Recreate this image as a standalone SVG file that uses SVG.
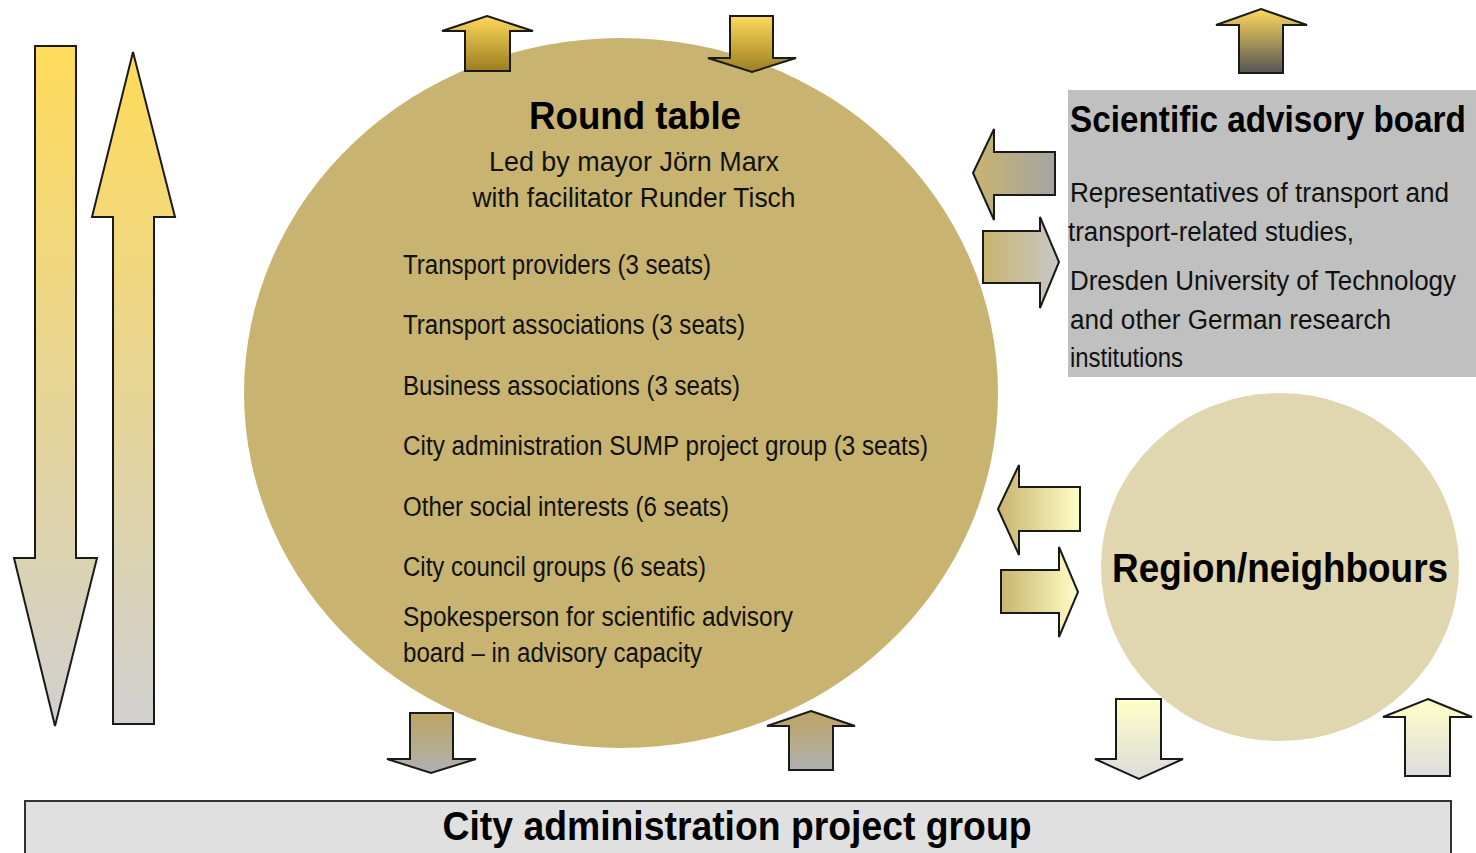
<svg xmlns="http://www.w3.org/2000/svg" width="1476" height="853" viewBox="0 0 1476 853">
  <style>
    .arrow { stroke: #1a1a1a; stroke-width: 2; stroke-linejoin: miter; }
    .title { font-family: "Liberation Sans", Arial, sans-serif; font-weight: bold; fill: #000; }
    .body { font-family: "Liberation Sans", Arial, sans-serif; fill: #111; font-size: 27px; }
  </style>
  <defs>
    <!-- vertical gradients (top to bottom) -->
    <linearGradient id="gYellowGrey" x1="0" y1="0" x2="0" y2="1">
      <stop offset="0" stop-color="#FFDB5A"/>
      <stop offset="1" stop-color="#D0D0D0"/>
    </linearGradient>
    <linearGradient id="gYellowDark" x1="0" y1="0" x2="0" y2="1">
      <stop offset="0" stop-color="#FFD85A"/>
      <stop offset="1" stop-color="#9C7E22"/>
    </linearGradient>
    <linearGradient id="gYellowSlate" x1="0" y1="0" x2="0" y2="1">
      <stop offset="0" stop-color="#FFD85A"/>
      <stop offset="1" stop-color="#555555"/>
    </linearGradient>
    <linearGradient id="gGoldGrey" x1="0" y1="0" x2="0" y2="1">
      <stop offset="0" stop-color="#BCA562"/>
      <stop offset="1" stop-color="#B0B0B0"/>
    </linearGradient>
    <linearGradient id="gPaleGrey" x1="0" y1="0" x2="0" y2="1">
      <stop offset="0" stop-color="#FFFFC8"/>
      <stop offset="1" stop-color="#DCDCDC"/>
    </linearGradient>
    <!-- horizontal gradients (left to right) -->
    <linearGradient id="hGoldGrey" x1="0" y1="0" x2="1" y2="0">
      <stop offset="0" stop-color="#C8B46E"/>
      <stop offset="1" stop-color="#A4A4A4"/>
    </linearGradient>
    <linearGradient id="hGoldLight" x1="0" y1="0" x2="1" y2="0">
      <stop offset="0" stop-color="#C8B46E"/>
      <stop offset="1" stop-color="#C8C8C8"/>
    </linearGradient>
    <linearGradient id="hGoldPale" x1="0" y1="0" x2="1" y2="0">
      <stop offset="0" stop-color="#C8B46E"/>
      <stop offset="1" stop-color="#FFFFC8"/>
    </linearGradient>
  </defs>

  <rect width="1476" height="853" fill="#FFFFFF"/>

  <!-- Round table -->
  <g id="round-table">
    <ellipse cx="621" cy="393" rx="377" ry="355" fill="#C8B470"/>
    <text class="title" x="635" y="129" font-size="39" text-anchor="middle" textLength="212" lengthAdjust="spacingAndGlyphs">Round table</text>
    <text class="body" x="634" y="171" text-anchor="middle" textLength="290" lengthAdjust="spacingAndGlyphs">Led by mayor Jörn Marx</text>
    <text class="body" x="634" y="207" text-anchor="middle" textLength="323" lengthAdjust="spacingAndGlyphs">with  facilitator  Runder  Tisch</text>
    <text class="body" x="403" y="274" textLength="308" lengthAdjust="spacingAndGlyphs">Transport providers (3 seats)</text>
    <text class="body" x="403" y="334" textLength="342" lengthAdjust="spacingAndGlyphs">Transport associations  (3 seats)</text>
    <text class="body" x="403" y="395" textLength="337" lengthAdjust="spacingAndGlyphs">Business  associations  (3 seats)</text>
    <text class="body" x="403" y="455" textLength="525" lengthAdjust="spacingAndGlyphs">City  administration  SUMP project group (3 seats)</text>
    <text class="body" x="403" y="516" textLength="326" lengthAdjust="spacingAndGlyphs">Other  social  interests  (6 seats)</text>
    <text class="body" x="403" y="576" textLength="303" lengthAdjust="spacingAndGlyphs">City  council  groups (6 seats)</text>
    <text class="body" x="403" y="626" textLength="390" lengthAdjust="spacingAndGlyphs">Spokesperson for scientific   advisory</text>
    <text class="body" x="403" y="662" textLength="299" lengthAdjust="spacingAndGlyphs">board – in advisory capacity</text>
  </g>

  <!-- Scientific advisory board -->
  <g id="scientific-board">
    <rect x="1068" y="90" width="408" height="287" fill="#C0C0C0"/>
    <text class="title" transform="translate(1070,132) scale(0.9,1)" x="0" y="0" font-size="37">Scientific advisory board</text>
    <text class="body" x="1070" y="202" textLength="379" lengthAdjust="spacingAndGlyphs">Representatives  of transport  and</text>
    <text class="body" x="1068" y="241" textLength="286" lengthAdjust="spacingAndGlyphs">transport-related  studies,</text>
    <text class="body" x="1070" y="290" textLength="386" lengthAdjust="spacingAndGlyphs">Dresden  University  of  Technology</text>
    <text class="body" x="1070" y="329" textLength="321" lengthAdjust="spacingAndGlyphs">and other  German  research</text>
    <text class="body" x="1070" y="367" textLength="113" lengthAdjust="spacingAndGlyphs">institutions</text>
  </g>

  <!-- Region/neighbours -->
  <g id="region">
    <ellipse cx="1280" cy="567" rx="179" ry="174" fill="#E0D6AF"/>
    <text class="title" x="1280" y="582" font-size="40" text-anchor="middle" textLength="336" lengthAdjust="spacingAndGlyphs">Region/neighbours</text>
  </g>

  <!-- City administration project group -->
  <g id="city-admin">
    <rect x="25" y="801" width="1426" height="60" fill="#E0E0E0" stroke="#333" stroke-width="2"/>
    <text class="title" x="737" y="840" font-size="40" text-anchor="middle" textLength="589" lengthAdjust="spacingAndGlyphs">City administration  project group</text>
  </g>

  <!-- Block arrows -->
  <g id="connectors">
    <!-- left: long down / up pair -->
    <polygon class="arrow" fill="url(#gYellowGrey)" points="35,46 76,46 76,558 97,558 55,726 14,558 35,558"/>
    <polygon class="arrow" fill="url(#gYellowGrey)" points="133,52 175,217 154,217 154,724 113,724 113,217 92,217"/>

    <!-- top of round table -->
    <polygon class="arrow" fill="url(#gYellowDark)" points="487,16 533,31 510,31 510,71 465,71 465,31 442,31"/>
    <polygon class="arrow" fill="url(#gYellowDark)" points="730,16 773,16 773,58 796,58 752,72 708,58 730,58"/>

    <!-- top of scientific board -->
    <polygon class="arrow" fill="url(#gYellowSlate)" points="1261,9 1307,25 1283,25 1283,73 1239,73 1239,25 1216,25"/>

    <!-- between round table and scientific board -->
    <polygon class="arrow" fill="url(#hGoldGrey)" points="973,173 994,129 994,152 1055,152 1055,195 994,195 994,220"/>
    <polygon class="arrow" fill="url(#hGoldLight)" points="983,231 1040,231 1040,217 1059,262 1040,308 1040,283 983,283"/>

    <!-- between round table and region -->
    <polygon class="arrow" fill="url(#hGoldPale)" points="998,509 1019,465 1019,487 1080,487 1080,531 1019,531 1019,555"/>
    <polygon class="arrow" fill="url(#hGoldPale)" points="1001,570 1059,570 1059,547 1078,592 1059,637 1059,613 1001,613"/>

    <!-- bottom of round table -->
    <polygon class="arrow" fill="url(#gGoldGrey)" points="410,713 453,713 453,759 476,759 431,773 387,759 410,759"/>
    <polygon class="arrow" fill="url(#gGoldGrey)" points="811,711 855,726 833,726 833,770 789,770 789,726 767,726"/>

    <!-- bottom of region -->
    <polygon class="arrow" fill="url(#gPaleGrey)" points="1116,699 1161,699 1161,759 1183,759 1139,779 1095,759 1116,759"/>
    <polygon class="arrow" fill="url(#gPaleGrey)" points="1428,699 1472,717 1450,717 1450,776 1405,776 1405,717 1383,717"/>
  </g>
</svg>
